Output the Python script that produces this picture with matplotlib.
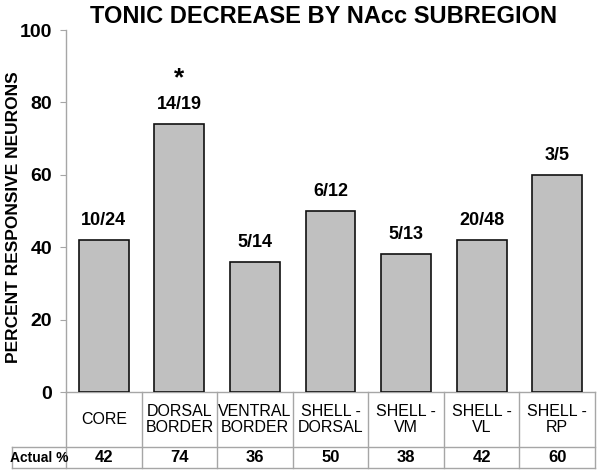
import matplotlib
matplotlib.use("Agg")
import matplotlib.pyplot as plt
import matplotlib.transforms as mtrans
import numpy as np

plt.rcParams['font.family'] = ['Liberation Sans', 'DejaVu Sans']

categories = ['CORE', 'DORSAL\nBORDER', 'VENTRAL\nBORDER', 'SHELL -\nDORSAL',
              'SHELL -\nVM', 'SHELL -\nVL', 'SHELL -\nRP']
percent = [42, 74, 36, 50, 38, 42, 60]
counts = ['10/24', '14/19', '5/14', '6/12', '5/13', '20/48', '3/5']
signif = [False, True, False, False, False, False, False]

grid_col = '#a6a6a6'

fig = plt.figure(figsize=(6, 4.75), dpi=100)
ax = fig.add_axes([0.11, 0.1747, 0.8817, 0.7621])

x = np.arange(len(categories))
ax.bar(x, percent, width=0.66, color='#c0c0c0', edgecolor='#111111', linewidth=1.2, zorder=3)

for xi, p, c, s in zip(x, percent, counts, signif):
    ax.annotate(c, (xi, p), xytext=(0, 8), textcoords='offset points',
                ha='center', va='bottom', fontsize=13, fontweight='bold')
    if s:
        ax.annotate('*', (xi, p), xytext=(0, 24), textcoords='offset points',
                    ha='center', va='bottom', fontsize=19, fontweight='bold')

ax.set_xlim(-0.5, len(categories) - 0.5)
ax.set_ylim(0, 100)
ax.set_yticks([0, 20, 40, 60, 80, 100])
ax.set_yticklabels(['0', '20', '40', '60', '80', '100'], fontsize=14, fontweight='bold')
ax.set_xticks([])
ax.tick_params(axis='y', length=4, color=grid_col, pad=6)
for side in ['top', 'right']:
    ax.spines[side].set_visible(False)
for side in ['left', 'bottom']:
    ax.spines[side].set_color(grid_col)
    ax.spines[side].set_linewidth(1)

fig.text(0.023, 0.542, 'PERCENT RESPONSIVE NEURONS', rotation=90, ha='center', va='center',
         fontsize=12.5, fontweight='bold')
fig.text(0.54, 0.965, 'TONIC DECREASE BY NAcc SUBREGION', ha='center', va='center',
         fontsize=17, fontweight='bold')

# table under the axis
tr = mtrans.blended_transform_factory(ax.transData, ax.transAxes)
row1 = -0.152
row2 = -0.21
left_tab = -1.214
n = len(categories)
kw = dict(color=grid_col, lw=1, transform=tr, clip_on=False)
for b in np.arange(n + 1) - 0.5:
    ax.plot([b, b], [0, row2], **kw)
ax.plot([left_tab, n - 0.5], [row1, row1], **kw)
ax.plot([left_tab, n - 0.5], [row2, row2], **kw)
ax.plot([left_tab, left_tab], [row1, row2], **kw)

for xi, cat, p in zip(x, categories, percent):
    ax.text(xi, row1 / 2, cat, transform=tr, ha='center', va='center', fontsize=11.5,
            linespacing=1.1)
    ax.text(xi, (row1 + row2) / 2, str(p), transform=tr, ha='center', va='center',
            fontsize=12, fontweight='bold')
ax.text((left_tab - 0.5) / 2, (row1 + row2) / 2, 'Actual %', transform=tr,
        ha='center', va='center', fontsize=10, fontweight='bold')

fig.savefig('out.png', dpi=100)
